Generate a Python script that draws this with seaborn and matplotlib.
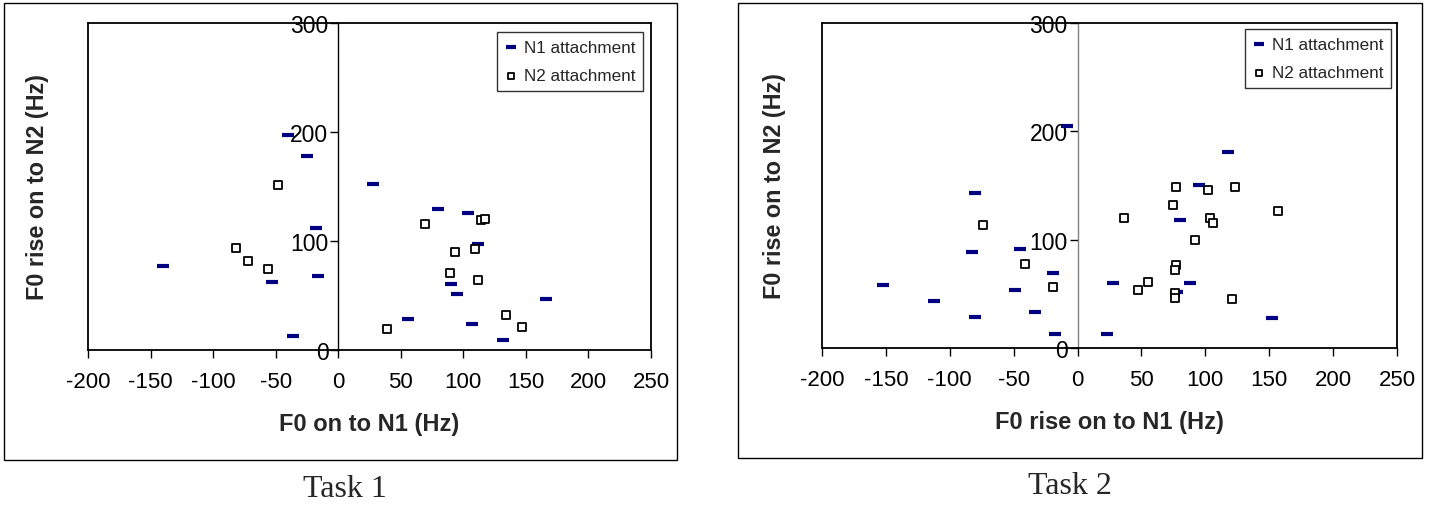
import matplotlib
matplotlib.use("Agg")
import matplotlib.pyplot as plt
from matplotlib.patches import Rectangle
from matplotlib.lines import Line2D
import pandas as pd
import seaborn as sns

# ---------------- data ----------------
t1_n1_x = [-140, -40, -25, -18, -53, -16, -36, 28, 80, 104, 112, 90, 95, 56, 107, 132, 166]
t1_n1_y = [77, 197, 178, 112, 62, 68, 13, 152, 129, 126, 97, 61, 51, 28, 24, 9, 47]
t1_n2_x = [-48, -82, -72, -56, 69, 114, 117, 93, 109, 89, 112, 134, 147, 39]
t1_n2_y = [151, 94, 82, 74, 116, 119, 120, 90, 93, 71, 64, 32, 21, 19]

t2_n1_x = [-8, -80, -83, -45, -19, -152, -112, -49, -33, -80, -18, 28, 23, 118, 95, 80, 88, 78, 152]
t2_n1_y = [205, 143, 89, 91, 69, 58, 43, 54, 33, 29, 13, 60, 13, 181, 150, 118, 60, 52, 28]
t2_n2_x = [-74, -41, -19, 77, 102, 123, 75, 36, 104, 106, 157, 92, 77, 76, 55, 47, 76, 76, 121]
t2_n2_y = [114, 78, 56, 149, 146, 149, 132, 120, 120, 115, 126, 100, 77, 72, 61, 54, 51, 46, 45]

series_labels = ["N1 attachment", "N2 attachment"]
x_ticks = [-200, -150, -100, -50, 0, 50, 100, 150, 200, 250]
y_ticks = [0, 100, 200, 300]
x_labels = ["F0 on to N1 (Hz)", "F0 rise on to N1 (Hz)"]
y_label = "F0 rise on to N2 (Hz)"
captions = ["Task 1", "Task 2"]

# ---------------- style ----------------
sns.set_style("white")
plt.rcParams["font.family"] = ["Liberation Sans", "DejaVu Sans"]

W, H = 1435, 506
fig = plt.figure(figsize=(W / 100, H / 100), dpi=100)


def px_axes(l, t, r, b):
    return fig.add_axes([l / W, 1 - b / H, (r - l) / W, (b - t) / H])


def frame(l, t, r, b):
    fig.patches.append(Rectangle((l / W, 1 - b / H), (r - l) / W, (b - t) / H,
                                 transform=fig.transFigure, fill=False,
                                 edgecolor="black", linewidth=1.0))


panels = [
    dict(box=(88, 24, 651, 351), outer=(4, 4, 677, 461),
         n1=(t1_n1_x, t1_n1_y), n2=(t1_n2_x, t1_n2_y), xlabel=x_labels[0],
         zero_color="black", ylab_x=-0.069, leg=(0.9858, 0.9725), cap=(345, 490)),
    dict(box=(822, 24, 1397, 349), outer=(738, 4, 1422, 459),
         n1=(t2_n1_x, t2_n1_y), n2=(t2_n2_x, t2_n2_y), xlabel=x_labels[1],
         zero_color="#808080", ylab_x=-0.063, leg=(0.9896, 0.9815), cap=(1070, 487)),
]

for i, p in enumerate(panels):
    frame(*p["outer"])
    ax = px_axes(*p["box"])
    df1 = pd.DataFrame({"x": p["n1"][0], "y": p["n1"][1]})
    df2 = pd.DataFrame({"x": p["n2"][0], "y": p["n2"][1]})
    sns.scatterplot(data=df1, x="x", y="y", ax=ax, marker="_", s=70,
                    color="#000080", linewidth=3, label=series_labels[0], zorder=3)
    sns.scatterplot(data=df2, x="x", y="y", ax=ax, marker="s", s=30,
                    facecolor="white", edgecolor="black", linewidth=1.3,
                    label=series_labels[1], zorder=3)
    ax.set_xlim(-200, 250)
    ax.set_ylim(0, 300)
    ax.set_xticks(x_ticks)
    ax.set_yticks(y_ticks)
    ax.set_xticklabels([str(v) for v in x_ticks])
    ax.set_yticklabels([str(v) for v in y_ticks])

    for s in ["top", "right", "bottom"]:
        ax.spines[s].set_visible(True)
        ax.spines[s].set_color("black")
        ax.spines[s].set_linewidth(1.3)
    ax.spines["left"].set_position(("data", 0))
    ax.spines["left"].set_color(p["zero_color"])
    ax.spines["left"].set_linewidth(1.0)
    ax.add_line(Line2D([0, 0], [0, 1], transform=ax.transAxes, color="black",
                       linewidth=1.3, clip_on=False))

    ax.tick_params(axis="x", direction="out", length=6, width=1, pad=9,
                   labelsize=16, bottom=True, colors="black")
    ax.tick_params(axis="y", direction="out", length=6, width=1, pad=1,
                   labelsize=16.5, left=True, colors="black")

    ax.set_xlabel(p["xlabel"], fontsize=17, fontweight="bold")
    ax.xaxis.set_label_coords(0.5, -0.19)
    ax.set_ylabel(y_label, fontsize=16.8, fontweight="bold")
    ax.yaxis.set_label_coords(p["ylab_x"], 0.5)

    leg = ax.legend(loc="upper right", bbox_to_anchor=p["leg"], borderaxespad=0,
                    fontsize=12.3, frameon=True, fancybox=False, labelspacing=0.8,
                    borderpad=0.45, handlelength=0.7, handletextpad=0.4,
                    markerscale=0.9)
    leg.get_frame().set_edgecolor("black")
    leg.get_frame().set_linewidth(1.0)

    fig.text(p["cap"][0] / W, 1 - p["cap"][1] / H, captions[i],
             ha="center", va="center", fontsize=23,
             family=["Liberation Serif", "DejaVu Serif"])

fig.savefig("out.png", dpi=100, facecolor="white")
